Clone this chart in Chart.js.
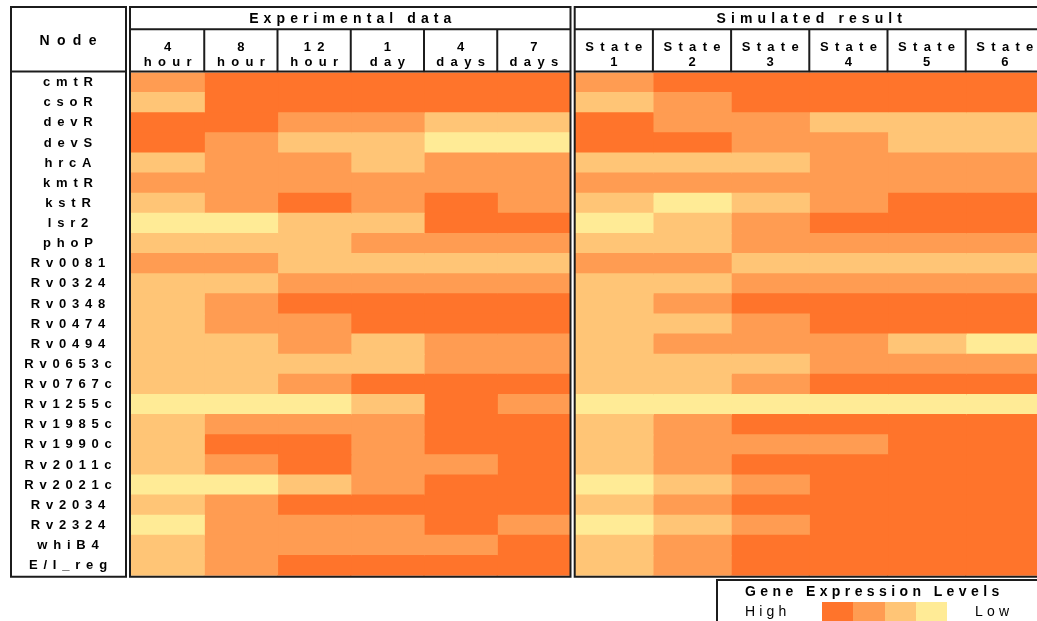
<!DOCTYPE html>
<html>
<head>
<meta charset="utf-8">
<script src="https://cdn.jsdelivr.net/npm/chart.js@4.4.1/dist/chart.umd.min.js"></script>
<style>
  html, body { margin: 0; padding: 0; background: #fff; }
  body { width: 1037px; height: 621px; overflow: hidden; position: relative;
         font-family: "Liberation Sans", Arial, sans-serif; color: #000; }
  canvas { position: absolute; top: 0; }
  #expChart { left: 0; }
  #simChart { left: 560px; }
  #legendBox { position: absolute; left: 716px; top: 579px; width: 340px; height: 60px;
               border-left: 2px solid #1c1c1c; border-top: 2px solid #1c1c1c; }
  #legendTitle { position: absolute; left: 27px; top: 2px; font-size: 14px; font-weight: bold;
                 letter-spacing: 4.4px; line-height: 16px; white-space: nowrap; }
  .endLabel { position: absolute; top: 22px; font-size: 14px; letter-spacing: 4.2px;
              line-height: 16px; white-space: nowrap; }
  #swatches { position: absolute; left: 104px; top: 21px; height: 25px; display: flex; }
  #swatches div { width: 31.3px; height: 25px; }
</style>
</head>
<body>
<canvas id="expChart" width="580" height="621"></canvas>
<canvas id="simChart" width="500" height="621"></canvas>
<div id="legendBox">
  <div id="legendTitle">Gene Expression Levels</div>
  <div class="endLabel" id="highLabel" style="left:27px">High</div>
  <div id="swatches"></div>
  <div class="endLabel" id="lowLabel" style="left:257px">Low</div>
</div>
<script>
// Regulator nodes, top to bottom
const nodes = ['cmtR', 'csoR', 'devR', 'devS', 'hrcA', 'kmtR', 'kstR', 'lsr2', 'phoP',
  'Rv0081', 'Rv0324', 'Rv0348', 'Rv0474', 'Rv0494', 'Rv0653c', 'Rv0767c', 'Rv1255c',
  'Rv1985c', 'Rv1990c', 'Rv2011c', 'Rv2021c', 'Rv2034', 'Rv2324', 'whiB4', 'E/I_reg'];

// Column headings (two lines each)
const expHeaders = [['4', 'hour'], ['8', 'hour'], ['12', 'hour'], ['1', 'day'], ['4', 'days'], ['7', 'days']];
const simHeaders = [['State', '1'], ['State', '2'], ['State', '3'], ['State', '4'], ['State', '5'], ['State', '6']];
const expTitle = 'Experimental data';
const simTitle = 'Simulated result';
const nodeTitle = 'Node';

// Expression level per node and column: 1 = high ... 4 = low
const expLevels = [
  [2, 1, 1, 1, 1, 1], // cmtR
  [3, 1, 1, 1, 1, 1], // csoR
  [1, 1, 2, 2, 3, 3], // devR
  [1, 2, 3, 3, 4, 4], // devS
  [3, 2, 2, 3, 2, 2], // hrcA
  [2, 2, 2, 2, 2, 2], // kmtR
  [3, 2, 1, 2, 1, 2], // kstR
  [4, 4, 3, 3, 1, 1], // lsr2
  [3, 3, 3, 2, 2, 2], // phoP
  [2, 2, 3, 3, 3, 3], // Rv0081
  [3, 3, 2, 2, 2, 2], // Rv0324
  [3, 2, 1, 1, 1, 1], // Rv0348
  [3, 2, 2, 1, 1, 1], // Rv0474
  [3, 3, 2, 3, 2, 2], // Rv0494
  [3, 3, 3, 3, 2, 2], // Rv0653c
  [3, 3, 2, 1, 1, 1], // Rv0767c
  [4, 4, 4, 3, 1, 2], // Rv1255c
  [3, 2, 2, 2, 1, 1], // Rv1985c
  [3, 1, 1, 2, 1, 1], // Rv1990c
  [3, 2, 1, 2, 2, 1], // Rv2011c
  [4, 4, 3, 2, 1, 1], // Rv2021c
  [3, 2, 1, 1, 1, 1], // Rv2034
  [4, 2, 2, 2, 1, 2], // Rv2324
  [3, 2, 2, 2, 2, 1], // whiB4
  [3, 2, 1, 1, 1, 1]  // E/I_reg
];
const simLevels = [
  [2, 1, 1, 1, 1, 1], // cmtR
  [3, 2, 1, 1, 1, 1], // csoR
  [1, 2, 2, 3, 3, 3], // devR
  [1, 1, 2, 2, 3, 3], // devS
  [3, 3, 3, 2, 2, 2], // hrcA
  [2, 2, 2, 2, 2, 2], // kmtR
  [3, 4, 3, 2, 1, 1], // kstR
  [4, 3, 2, 1, 1, 1], // lsr2
  [3, 3, 2, 2, 2, 2], // phoP
  [2, 2, 3, 3, 3, 3], // Rv0081
  [3, 3, 2, 2, 2, 2], // Rv0324
  [3, 2, 1, 1, 1, 1], // Rv0348
  [3, 3, 2, 1, 1, 1], // Rv0474
  [3, 2, 2, 2, 3, 4], // Rv0494
  [3, 3, 3, 2, 2, 2], // Rv0653c
  [3, 3, 2, 1, 1, 1], // Rv0767c
  [4, 4, 4, 4, 4, 4], // Rv1255c
  [3, 2, 1, 1, 1, 1], // Rv1985c
  [3, 2, 2, 2, 1, 1], // Rv1990c
  [3, 2, 1, 1, 1, 1], // Rv2011c
  [4, 3, 2, 1, 1, 1], // Rv2021c
  [3, 2, 1, 1, 1, 1], // Rv2034
  [4, 3, 2, 1, 1, 1], // Rv2324
  [3, 2, 1, 1, 1, 1], // whiB4
  [3, 2, 1, 1, 1, 1]  // E/I_reg
];

// Level colours, high to low
const levelColors = ['#FF742B', '#FF9C52', '#FFC576', '#FFEB96'];

const FONT = '"Liberation Sans", Arial, sans-serif';
const LINE = '#1c1c1c';
const NODE_SPACING = 5.8;

// Legend swatches
const sw = document.getElementById('swatches');
levelColors.forEach(c => { const d = document.createElement('div'); d.style.background = c; sw.appendChild(d); });

// Tick padding that centres the node names inside the node column (x 11..126)
const probe = document.createElement('canvas').getContext('2d');
probe.font = 'bold 13px ' + FONT;
probe.letterSpacing = NODE_SPACING + 'px';
const widestNode = Math.max(...nodes.map(n => probe.measureText(n).width));
const nodeCenter = 68;
const yTickPad = 131 - (nodeCenter + NODE_SPACING / 2) - widestNode / 2;

function spacedText(ctx, text, x, y, font, spacing) {
  ctx.font = font;
  ctx.letterSpacing = spacing + 'px';
  ctx.textAlign = 'center';
  ctx.textBaseline = 'alphabetic';
  ctx.fillText(text, x + spacing / 2, y);
}

// Frame, group title and column headings drawn around each heat block
function framePlugin(title, headers, withNodeBox, leftInset) {
  return {
    id: 'frame',
    beforeLayout(chart) { chart.ctx.letterSpacing = NODE_SPACING + 'px'; },
    beforeDraw(chart) { chart.ctx.letterSpacing = NODE_SPACING + 'px'; },
    afterDraw(chart) {
      const { ctx, chartArea: a, scales: { x } } = chart;
      const top = 7, div = 29.2, hb = a.top - 1, bottom = a.bottom + 1;
      const L = a.left - leftInset, R = a.right;
      ctx.save();
      ctx.strokeStyle = LINE;
      ctx.lineWidth = 2;
      ctx.beginPath();
      ctx.rect(L, top, R - L, bottom - top);
      ctx.moveTo(L, div); ctx.lineTo(R, div);
      ctx.moveTo(L, hb); ctx.lineTo(R, hb);
      for (let j = 1; j < headers.length; j++) {
        const px = x.getPixelForValue(j);
        ctx.moveTo(px, div); ctx.lineTo(px, hb);
      }
      if (withNodeBox) {
        ctx.rect(11, top, 115, bottom - top);
        ctx.moveTo(11, hb); ctx.lineTo(126, hb);
      }
      ctx.stroke();

      ctx.fillStyle = '#000';
      spacedText(ctx, title, (L + R) / 2, 23, 'bold 14px ' + FONT, 5.1);
      headers.forEach((h, j) => {
        const cx = x.getPixelForValue(j + 0.5);
        spacedText(ctx, h[0], cx, 50.5, 'bold 13px ' + FONT, 6.3);
        spacedText(ctx, h[1], cx, 66, 'bold 13px ' + FONT, 6.3);
      });
      if (withNodeBox) spacedText(ctx, nodeTitle, nodeCenter, 45, 'bold 14px ' + FONT, 7.4);
      ctx.restore();
    }
  };
}

function heatDatasets(headers, levels) {
  return headers.map((h, j) => ({
    label: h.join(' '),
    data: nodes.map(() => [j, j + 1]),
    backgroundColor: levels.map(row => levelColors[row[j] - 1]),
    borderWidth: 0,
    inflateAmount: 0.6,
    barPercentage: 1,
    categoryPercentage: 1,
    grouped: false
  }));
}

function heatChart(id, headers, levels, title, showNodes, padding, leftInset) {
  return new Chart(document.getElementById(id), {
    type: 'bar',
    data: { labels: nodes, datasets: heatDatasets(headers, levels) },
    options: {
      indexAxis: 'y',
      responsive: false,
      animation: false,
      layout: { padding },
      plugins: { legend: { display: false }, tooltip: { enabled: false } },
      scales: {
        x: { type: 'linear', min: 0, max: headers.length, display: false },
        y: {
          display: showNodes,
          position: 'left',
          grid: { display: false, drawTicks: false },
          border: { display: false },
          ticks: {
            autoSkip: false,
            color: '#000',
            crossAlign: 'center',
            padding: yTickPad,
            font: { family: FONT, size: 13, weight: 'bold' }
          },
          afterFit(s) { if (showNodes) s.width = 120; }
        }
      }
    },
    plugins: [framePlugin(title, headers, showNodes, leftInset)]
  });
}

heatChart('expChart', expHeaders, expLevels, expTitle, true,
  { left: 11, right: 9.5, top: 72.5, bottom: 45.3 }, 1);
heatChart('simChart', simHeaders, simLevels, simTitle, false,
  { left: 14.7, right: 16.1, top: 72.5, bottom: 45.3 }, 0);
</script>
</body>
</html>
